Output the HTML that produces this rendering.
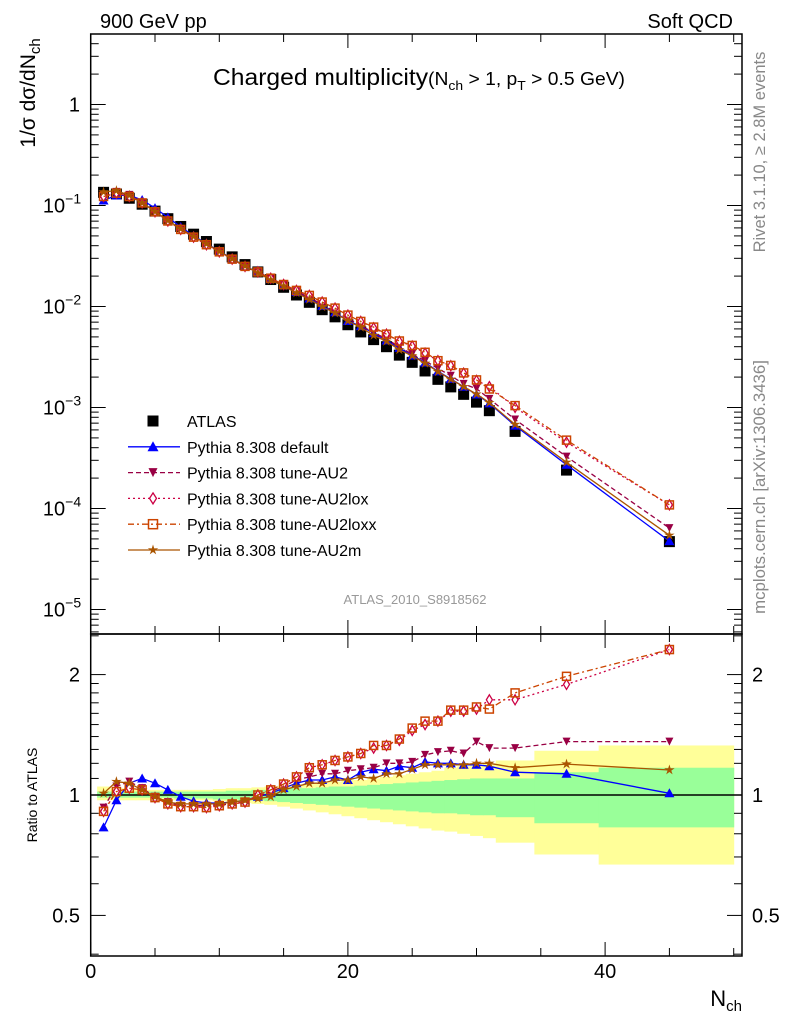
<!DOCTYPE html>
<html><head><meta charset="utf-8"><style>
body{margin:0;background:#fff}
svg{display:block;font-family:"Liberation Sans",sans-serif}
</style></head><body>
<svg id="c" width="786" height="1024" viewBox="0 0 786 1024">
<g id="bands"></g>
<g id="marks"></g>
<g id="axes"></g>
<text x="100" y="28" font-size="20">900 GeV pp</text>
<text x="733" y="28" font-size="20" text-anchor="end">Soft QCD</text>
<text x="213" y="85" font-size="23" textLength="412" lengthAdjust="spacingAndGlyphs">Charged multiplicity<tspan font-size="18">(N<tspan font-size="13" dy="5">ch</tspan><tspan dy="-5"> &gt; 1, p</tspan><tspan font-size="13" dy="5">T</tspan><tspan dy="-5"> &gt; 0.5 GeV)</tspan></tspan></text>
<text x="415" y="604" font-size="13" fill="#999" text-anchor="middle">ATLAS_2010_S8918562</text>
<text transform="translate(35,93) rotate(-90)" font-size="21" text-anchor="middle">1/σ dσ/dN<tspan font-size="15" dy="5">ch</tspan></text>
<text transform="translate(37,795) rotate(-90)" font-size="14" text-anchor="middle">Ratio to ATLAS</text>
<text x="742" y="1006" font-size="22" text-anchor="end">N<tspan font-size="15" dy="5">ch</tspan></text>
<text transform="translate(765,152) rotate(-90)" font-size="16.5" fill="#888" text-anchor="middle">Rivet 3.1.10, ≥ 2.8M events</text>
<text transform="translate(765,487) rotate(-90)" font-size="16.8" fill="#888" text-anchor="middle">mcplots.cern.ch [arXiv:1306.3436]</text>
<g id="legend"></g>
</svg>
<script>
const xs=[1,2,3,4,5,6,7,8,9,10,11,12,13,14,15,16,17,18,19,20,21,22,23,24,25,26,27,28,29,30,31,33,37,45];
const binLo=[0.5,1.5,2.5,3.5,4.5,5.5,6.5,7.5,8.5,9.5,10.5,11.5,12.5,13.5,14.5,15.5,16.5,17.5,18.5,19.5,20.5,21.5,22.5,23.5,24.5,25.5,26.5,27.5,28.5,29.5,30.5,31.5,34.5,39.5];
const binHi=[1.5,2.5,3.5,4.5,5.5,6.5,7.5,8.5,9.5,10.5,11.5,12.5,13.5,14.5,15.5,16.5,17.5,18.5,19.5,20.5,21.5,22.5,23.5,24.5,25.5,26.5,27.5,28.5,29.5,30.5,31.5,34.5,39.5,50];
const atlas=[0.135,0.130,0.118,0.103,0.088,0.074,0.062,0.052,0.044,0.037,0.031,0.026,0.022,0.0185,0.0155,0.013,0.0110,0.0093,0.0079,0.0066,0.0056,0.0047,0.0040,0.0033,0.0028,0.0023,0.0019,0.0016,0.00135,0.00113,0.00093,0.00058,0.00024,0.000047];
const rDefault=[0.83,0.97,1.07,1.10,1.07,1.03,0.99,0.965,0.955,0.955,0.96,0.97,0.99,1.01,1.04,1.07,1.09,1.09,1.11,1.09,1.14,1.16,1.15,1.18,1.17,1.21,1.20,1.20,1.19,1.19,1.18,1.14,1.13,1.01];
const rAU2=[0.93,1.05,1.08,1.04,0.99,0.96,0.94,0.94,0.94,0.945,0.95,0.96,0.99,1.02,1.05,1.09,1.11,1.13,1.13,1.15,1.16,1.17,1.20,1.20,1.21,1.26,1.28,1.29,1.27,1.36,1.31,1.31,1.36,1.36];
const rAU2lox=[0.91,1.02,1.04,1.03,0.985,0.95,0.935,0.935,0.93,0.94,0.95,0.96,1.0,1.03,1.065,1.11,1.17,1.19,1.22,1.245,1.27,1.31,1.33,1.37,1.45,1.50,1.53,1.62,1.62,1.64,1.73,1.73,1.89,2.31];
const rAU2loxx=[0.91,1.02,1.04,1.03,0.985,0.95,0.935,0.935,0.93,0.94,0.95,0.96,1.0,1.03,1.065,1.11,1.17,1.19,1.22,1.245,1.27,1.33,1.33,1.38,1.47,1.53,1.53,1.63,1.63,1.66,1.64,1.80,1.98,2.31];
const rAU2m=[1.01,1.08,1.07,1.03,0.99,0.96,0.95,0.95,0.95,0.95,0.96,0.97,0.98,0.99,1.03,1.05,1.07,1.07,1.09,1.09,1.11,1.10,1.13,1.13,1.16,1.19,1.19,1.19,1.19,1.20,1.20,1.17,1.195,1.155];
const yellowUp=[1.05,1.04,1.04,1.03,1.03,1.03,1.03,1.03,1.03,1.035,1.04,1.04,1.045,1.05,1.055,1.06,1.07,1.07,1.08,1.09,1.09,1.10,1.11,1.12,1.13,1.14,1.15,1.17,1.18,1.19,1.20,1.22,1.29,1.33];
const yellowLo=[0.97,0.97,0.97,0.97,0.97,0.97,0.97,0.97,0.97,0.965,0.96,0.955,0.95,0.945,0.935,0.925,0.915,0.905,0.895,0.885,0.875,0.865,0.855,0.845,0.835,0.825,0.815,0.81,0.80,0.79,0.78,0.76,0.71,0.67];
const greenUp=[1.02,1.02,1.02,1.02,1.02,1.02,1.02,1.02,1.02,1.02,1.025,1.025,1.03,1.03,1.035,1.04,1.04,1.045,1.05,1.05,1.055,1.06,1.065,1.07,1.075,1.08,1.085,1.09,1.095,1.10,1.10,1.10,1.14,1.17];
const greenLo=[0.985,0.985,0.985,0.985,0.985,0.985,0.98,0.98,0.98,0.975,0.975,0.97,0.97,0.965,0.96,0.955,0.95,0.945,0.94,0.935,0.93,0.925,0.92,0.915,0.91,0.905,0.90,0.90,0.895,0.89,0.89,0.88,0.85,0.83];
const mainTicks=["1","10","10","10","10","10"];
const mainExp=["","−1","−2","−3","−4","−5"];
const ratioTicks=[2,1,0.5];
const xTicks=[0,20,40];

const NS="http://www.w3.org/2000/svg";
const L=90.7,R=742,T=34,M=634,B=956;
const X=v=>L+(v)*12.86;
const Y=v=>104.5-101*Math.log10(v);
const YR=v=>795-400*Math.log10(v);
function mk(tag,attrs,parent){const e=document.createElementNS(NS,tag);for(const k in attrs)e.setAttribute(k,attrs[k]);parent.appendChild(e);return e;}
const bands=document.getElementById('bands'),marks=document.getElementById('marks'),axes=document.getElementById('axes'),legend=document.getElementById('legend');

xs.forEach((x,i)=>{
  const y=mk('rect',{x:X(binLo[i]),y:YR(yellowUp[i]),width:Math.min(X(binHi[i]),R)-X(binLo[i])+0.5,height:YR(yellowLo[i])-YR(yellowUp[i]),fill:'#ffff99'},bands);
  
  
});
xs.forEach((x,i)=>{
  const g=mk('rect',{x:X(binLo[i]),y:YR(greenUp[i]),width:Math.min(X(binHi[i]),R)-X(binLo[i])+0.5,height:YR(greenLo[i])-YR(greenUp[i]),fill:'#99ff99'},bands);
  
  
});
const one=mk('line',{x1:L,x2:R,y1:YR(1),y2:YR(1),stroke:'#000','stroke-width':1.5},bands);



function marker(type,cx,cy,col,parent,s){
  s=s||4.5;let e;
  if(type==='sq')e=mk('rect',{x:cx-5.5,y:cy-5.5,width:11,height:11,fill:'#000'},parent);
  else if(type==='up')e=mk('polygon',{points:`${cx},${cy-s-1} ${cx-s-1},${cy+s} ${cx+s+1},${cy+s}`,fill:col},parent);
  else if(type==='dn')e=mk('polygon',{points:`${cx},${cy+s} ${cx-s},${cy-s} ${cx+s},${cy-s}`,fill:col},parent);
  else if(type==='dia')e=mk('polygon',{points:`${cx},${cy-s-1} ${cx+s-1},${cy} ${cx},${cy+s+1} ${cx-s+1},${cy}`,fill:'#fff',stroke:col,'stroke-width':1.3},parent);
  else if(type==='osq')e=mk('rect',{x:cx-s,y:cy-s,width:2*s,height:2*s,fill:'none',stroke:col,'stroke-width':1.5},parent);
  else {let p=[];for(let k=0;k<10;k++){const r=k%2?2:5.5,a=-Math.PI/2+k*Math.PI/5;p.push((cx+r*Math.cos(a)).toFixed(1)+','+(cy+r*Math.sin(a)).toFixed(1));}
    e=mk('polygon',{points:p.join(' '),fill:col},parent);}
  return e;
}
const series=[
 {name:'Pythia 8.308 default',key:'default',r:rDefault,col:'#0000ff',m:'up',dash:''},
 {name:'Pythia 8.308 tune-AU2',key:'au2',r:rAU2,col:'#990044',m:'dn',dash:'5,3'},
 {name:'Pythia 8.308 tune-AU2lox',key:'au2lox',r:rAU2lox,col:'#cc0044',m:'dia',dash:'2,3'},
 {name:'Pythia 8.308 tune-AU2loxx',key:'au2loxx',r:rAU2loxx,col:'#cc4400',m:'osq',dash:'6,3,2,3'},
 {name:'Pythia 8.308 tune-AU2m',key:'au2m',r:rAU2m,col:'#aa5500',m:'star',dash:''}
];
xs.forEach((x,i)=>{
  const e=marker('sq',X(x),Y(atlas[i]),'#000',marks);
  
  
});
series.forEach(s=>{
  const main=xs.map((x,i)=>X(x).toFixed(1)+','+Y(atlas[i]*s.r[i]).toFixed(1)).join(' ');
  const l1=mk('polyline',{points:main,fill:'none',stroke:s.col,'stroke-width':1.3,'stroke-dasharray':s.dash},marks);
  
  
  const rat=xs.map((x,i)=>X(x).toFixed(1)+','+YR(s.r[i]).toFixed(1)).join(' ');
  const l2=mk('polyline',{points:rat,fill:'none',stroke:s.col,'stroke-width':1.3,'stroke-dasharray':s.dash},marks);
  
  
  xs.forEach((x,i)=>{
    const a=marker(s.m,X(x),Y(atlas[i]*s.r[i]),s.col,marks,4);
    
    
    const b=marker(s.m,X(x),YR(s.r[i]),s.col,marks,4);
    
    
  });
});
[[T,M],[M,B]].forEach(([t,b])=>{
  const f=mk('rect',{x:L,y:t,width:R-L,height:b-t,fill:'none',stroke:'#000','stroke-width':1.5},axes);
  
  
});
for(let d=-6;d<=1;d++){for(let k=1;k<10;k++){const v=k*Math.pow(10,d);const y=Y(v);if(y<T||y>M)continue;const len=k===1?15:8;
  mk('line',{x1:L,x2:L+len,y1:y,y2:y,stroke:'#000'},axes);mk('line',{x1:R,x2:R-len,y1:y,y2:y,stroke:'#000'},axes);}}
mainTicks.forEach((t,i)=>{const e=mk('text',{x:mainExp[i]?62:80,y:Y(Math.pow(10,-i))+7,'font-size':20,'text-anchor':mainExp[i]?'middle':'end'},axes);
  e.textContent=t;if(mainExp[i]){const s=mk('tspan',{'font-size':14,dy:-9},e);s.textContent=mainExp[i];}
  
  });
[0.4,0.5,0.6,0.7,0.8,0.9,1,1.1,1.2,1.3,1.4,1.5,1.6,1.7,1.8,1.9,2,2.5].forEach(v=>{const y=YR(v);if(y<M||y>B)return;const len=(v===0.5||v===1||v===2)?15:8;
  mk('line',{x1:L,x2:L+len,y1:y,y2:y,stroke:'#000'},axes);mk('line',{x1:R,x2:R-len,y1:y,y2:y,stroke:'#000'},axes);});
ratioTicks.forEach(v=>{
  const a=mk('text',{x:80,y:YR(v)+7,'font-size':20,'text-anchor':'end'},axes);a.textContent=String(v);
  
  
  const b=mk('text',{x:752,y:YR(v)+7,'font-size':20},axes);b.textContent=String(v);
  
  });
for(let v=0;v<=50;v+=5){const x=X(v);const len=v%20===0?14:8;
  [[T,1],[M,1],[M,-1],[B,-1]].forEach(([y0,dir])=>mk('line',{x1:x,x2:x,y1:y0,y2:y0+dir*len,stroke:'#000'},axes));}
xTicks.forEach(v=>{const e=mk('text',{x:X(v),y:978,'font-size':20,'text-anchor':'middle'},axes);e.textContent=String(v);
  
  });
const items=[{name:'ATLAS',m:'sq',col:'#000',dash:null}].concat(series);
items.forEach((s,i)=>{const y=421+i*25.8;const g=mk('g',{},legend);
  
  
  if(s.dash!==null)mk('line',{x1:128,x2:180,y1:y,y2:y,stroke:s.col,'stroke-width':1.3,'stroke-dasharray':s.dash},g);
  marker(s.m,153,y,s.col,g,4.5);
  const t=mk('text',{x:187,y:y+6,'font-size':16},g);t.textContent=s.name;});
</script>
</body></html>
